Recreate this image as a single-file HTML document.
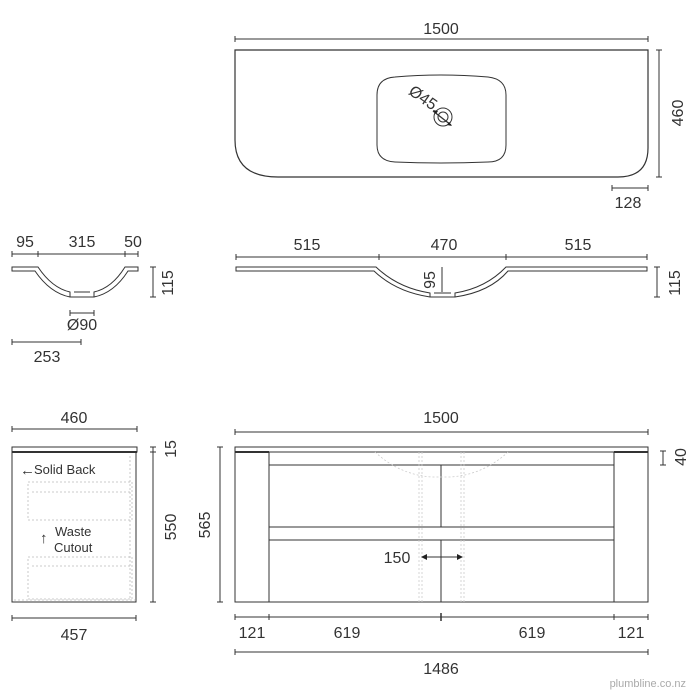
<!DOCTYPE html>
<html><head><meta charset="utf-8"><style>
html,body{margin:0;padding:0;background:#fff;}
svg{display:block;}
text{font-family:"Liberation Sans",sans-serif;font-size:16px;fill:#333;}
</style></head><body>
<svg width="700" height="700" viewBox="0 0 700 700" xmlns="http://www.w3.org/2000/svg">
<g stroke="#333" stroke-width="1" fill="none">
<!-- TOP VIEW -->
<line x1="235" y1="39" x2="648" y2="39"/><line x1="235" y1="36" x2="235" y2="42"/><line x1="648" y1="36" x2="648" y2="42"/>
<path d="M235 50 H648 V148 Q648 177 618 177 H278 Q235 177 235 140 Z" stroke-width="1.2"/>
<path d="M395 77 Q440 73 488 77 Q506 79 506 95 V145 Q506 162 488 162 Q440 164 395 162 Q377 161 377 145 V95 Q377 78 395 77 Z"/>
<circle cx="443" cy="117" r="9"/><circle cx="443" cy="117" r="5"/>
<line x1="433" y1="111" x2="451" y2="125" stroke-width="1.3"/>
<line x1="659" y1="50" x2="659" y2="177"/><line x1="656" y1="50" x2="662" y2="50"/><line x1="656" y1="177" x2="662" y2="177"/>
<line x1="612" y1="188" x2="648" y2="188"/><line x1="612" y1="185" x2="612" y2="191"/><line x1="648" y1="185" x2="648" y2="191"/>
<!-- LEFT PROFILE -->
<line x1="12" y1="254" x2="138" y2="254"/><line x1="12" y1="251" x2="12" y2="257"/><line x1="38" y1="251" x2="38" y2="257"/><line x1="125" y1="251" x2="125" y2="257"/><line x1="138" y1="251" x2="138" y2="257"/>
<path d="M12 267 H38 Q52 288 70 292 V297 H94 V292 Q112 288 125 267 H138 V271 H128 Q114 293 94 297 H70 Q50 293 35 271 H12 Z"/>
<line x1="74" y1="292" x2="90" y2="292"/>
<line x1="153" y1="267" x2="153" y2="297"/><line x1="150" y1="267" x2="156" y2="267"/><line x1="150" y1="297" x2="156" y2="297"/>
<line x1="70" y1="313" x2="94" y2="313"/><line x1="70" y1="310" x2="70" y2="316"/><line x1="94" y1="310" x2="94" y2="316"/>
<line x1="12" y1="342" x2="81" y2="342"/><line x1="12" y1="339" x2="12" y2="345"/><line x1="81" y1="339" x2="81" y2="345"/>
<!-- RIGHT PROFILE -->
<line x1="236" y1="257" x2="647" y2="257"/><line x1="236" y1="254" x2="236" y2="260"/><line x1="379" y1="254" x2="379" y2="260"/><line x1="506" y1="254" x2="506" y2="260"/><line x1="647" y1="254" x2="647" y2="260"/>
<path d="M236 267 H376 Q398 288 430 293 V297 H455 V293 Q486 288 506 267 H647 V271 H508 Q490 292 455 297 H430 Q396 292 374 271 H236 Z"/>
<line x1="434" y1="293" x2="451" y2="293"/>
<line x1="442" y1="267" x2="442" y2="292"/>
<line x1="657" y1="267" x2="657" y2="297"/><line x1="654" y1="267" x2="660" y2="267"/><line x1="654" y1="297" x2="660" y2="297"/>
<!-- BOTTOM LEFT -->
<line x1="12" y1="429" x2="137" y2="429"/><line x1="12" y1="426" x2="12" y2="432"/><line x1="137" y1="426" x2="137" y2="432"/>
<rect x="12" y="447" width="125" height="5"/>
<line x1="12" y1="452" x2="137" y2="452" stroke-width="2"/>
<rect x="12" y="452" width="124" height="150"/>
<g stroke="#bbb" stroke-dasharray="2 2" stroke-width="0.8">
<rect x="28" y="482" width="104" height="38"/><line x1="32" y1="492" x2="132" y2="492"/>
<rect x="28" y="557" width="104" height="42"/><line x1="32" y1="566" x2="132" y2="566"/>
<line x1="130" y1="456" x2="130" y2="600"/><line x1="14" y1="600" x2="135" y2="600"/>
</g>
<line x1="153" y1="447" x2="153" y2="452"/><line x1="150" y1="447" x2="156" y2="447"/>
<line x1="153" y1="452" x2="153" y2="602"/><line x1="150" y1="452" x2="156" y2="452"/><line x1="150" y1="602" x2="156" y2="602"/>
<line x1="12" y1="618" x2="136" y2="618"/><line x1="12" y1="615" x2="12" y2="621"/><line x1="136" y1="615" x2="136" y2="621"/>
<!-- BOTTOM RIGHT -->
<line x1="235" y1="432" x2="648" y2="432"/><line x1="235" y1="429" x2="235" y2="435"/><line x1="648" y1="429" x2="648" y2="435"/>
<rect x="235" y="447" width="413" height="5"/>
<line x1="235" y1="452" x2="269" y2="452" stroke-width="2"/><line x1="614" y1="452" x2="648" y2="452" stroke-width="2"/>
<rect x="235" y="452" width="413" height="150"/>
<line x1="269" y1="452" x2="269" y2="602"/><line x1="614" y1="452" x2="614" y2="602"/>
<line x1="269" y1="465" x2="614" y2="465"/><line x1="269" y1="527" x2="614" y2="527"/><line x1="269" y1="540" x2="614" y2="540"/>
<line x1="441" y1="465" x2="441" y2="527"/><line x1="441" y1="540" x2="441" y2="602"/>
<g stroke="#ccc" stroke-dasharray="2 2" stroke-width="0.8">
<line x1="419" y1="452" x2="419" y2="602"/><line x1="422" y1="452" x2="422" y2="602"/>
<line x1="461" y1="452" x2="461" y2="602"/><line x1="464" y1="452" x2="464" y2="602"/>
<path d="M375 452 Q400 475 432 477 H450 Q483 475 508 452"/>
</g>
<line x1="425" y1="557" x2="459" y2="557"/>
<line x1="663" y1="451" x2="663" y2="465"/><line x1="660" y1="451" x2="666" y2="451"/><line x1="660" y1="465" x2="666" y2="465"/>
<line x1="220" y1="447" x2="220" y2="602"/><line x1="217" y1="447" x2="223" y2="447"/><line x1="217" y1="602" x2="223" y2="602"/>
<line x1="235" y1="617" x2="648" y2="617"/>
<line x1="235" y1="614" x2="235" y2="620"/><line x1="269" y1="614" x2="269" y2="620"/><line x1="441" y1="613" x2="441" y2="621" stroke-width="1.5"/><line x1="614" y1="614" x2="614" y2="620"/><line x1="648" y1="614" x2="648" y2="620"/>
<line x1="235" y1="652" x2="648" y2="652"/><line x1="235" y1="649" x2="235" y2="655"/><line x1="648" y1="649" x2="648" y2="655"/>
</g>
<g fill="#222">
<path d="M421 557 l6 -3 v6 z"/><path d="M463 557 l-6 -3 v6 z"/>
<path d="M452 126 l-5 -1 l2 -3 z"/><path d="M433 110 l5 1 l-2 3 z"/>
</g>
<!-- TEXT -->
<text x="441" y="34" text-anchor="middle">1500</text>
<text transform="translate(683,113) rotate(-90)" text-anchor="middle">460</text>
<text x="628" y="208" text-anchor="middle">128</text>
<text transform="translate(420,102) rotate(35)" text-anchor="middle">Ø45</text>
<text x="25" y="247" text-anchor="middle">95</text>
<text x="82" y="247" text-anchor="middle">315</text>
<text x="133" y="247" text-anchor="middle">50</text>
<text transform="translate(173,283) rotate(-90)" text-anchor="middle">115</text>
<text x="82" y="330" text-anchor="middle">Ø90</text>
<text x="47" y="362" text-anchor="middle">253</text>
<text x="307" y="250" text-anchor="middle">515</text>
<text x="444" y="250" text-anchor="middle">470</text>
<text x="578" y="250" text-anchor="middle">515</text>
<text transform="translate(435,280) rotate(-90)" text-anchor="middle">95</text>
<text transform="translate(680,283) rotate(-90)" text-anchor="middle">115</text>
<text x="74" y="423" text-anchor="middle">460</text>
<text x="34" y="474" style="font-size:13px">Solid Back</text>
<text x="20" y="475" style="font-size:15px">←</text>
<text x="55" y="536" style="font-size:13px">Waste</text>
<text x="54" y="552" style="font-size:13px">Cutout</text>
<text x="40" y="543" style="font-size:15px">↑</text>
<text transform="translate(176,449) rotate(-90)" text-anchor="middle">15</text>
<text transform="translate(176,527) rotate(-90)" text-anchor="middle">550</text>
<text x="74" y="640" text-anchor="middle">457</text>
<text x="441" y="423" text-anchor="middle">1500</text>
<text transform="translate(686,457) rotate(-90)" text-anchor="middle">40</text>
<text transform="translate(210,525) rotate(-90)" text-anchor="middle">565</text>
<text x="397" y="563" text-anchor="middle">150</text>
<text x="252" y="638" text-anchor="middle">121</text>
<text x="347" y="638" text-anchor="middle">619</text>
<text x="532" y="638" text-anchor="middle">619</text>
<text x="631" y="638" text-anchor="middle">121</text>
<text x="441" y="674" text-anchor="middle">1486</text>
<text x="686" y="687" text-anchor="end" style="font-size:11px;fill:#aaa">plumbline.co.nz</text>
</svg>
</body></html>
